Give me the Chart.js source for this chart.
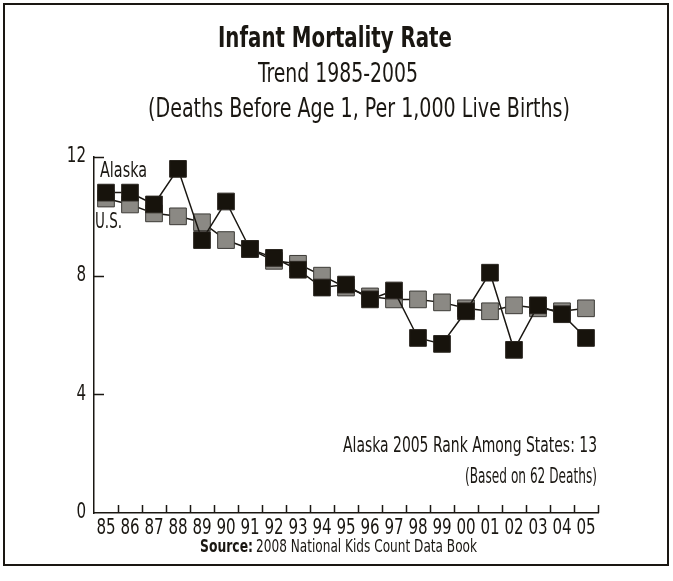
<!DOCTYPE html>
<html>
<head>
<meta charset="utf-8">
<script src="https://cdn.jsdelivr.net/npm/chart.js@4/dist/chart.umd.min.js"></script>
<style>
  html, body { margin: 0; padding: 0; background: #fff; }
  #wrap { width: 673px; height: 581px; }
</style>
</head>
<body>
<div id="wrap"><canvas id="chart" width="673" height="581"></canvas></div>
<script>
const years = ['85', '86', '87', '88', '89', '90', '91', '92', '93', '94', '95',
               '96', '97', '98', '99', '00', '01', '02', '03', '04', '05'];
const alaska = [10.8, 10.8, 10.4, 11.6, 9.2, 10.5, 8.9, 8.6, 8.2, 7.6, 7.7,
                7.2, 7.5, 5.9, 5.7, 6.8, 8.1, 5.5, 7.0, 6.7, 5.9];
const us = [10.6, 10.4, 10.1, 10.0, 9.8, 9.2, 8.9, 8.5, 8.4, 8.0, 7.6,
            7.3, 7.2, 7.2, 7.1, 6.9, 6.8, 7.0, 6.9, 6.8, 6.9];
const yTicks = [0, 4, 8, 12];

const FONT = "'DejaVu Sans Condensed', 'Liberation Sans Narrow', sans-serif";
const INK = '#1a1712';
const SQUEEZE = 0.8; // the original uses a condensed face

// draws a line of text squeezed horizontally, to a width or by SQUEEZE
function narrowText(ctx, text, x, y, size, weight, align, width) {
    ctx.font = weight + ' ' + size + 'px ' + FONT;
    const w = ctx.measureText(text).width;
    const sx = width ? width / w : SQUEEZE;
    const shown = w * sx;
    let left = x;
    if (align === 'center') left = x - shown / 2;
    if (align === 'right') left = x - shown;
    ctx.save();
    ctx.translate(left, y);
    ctx.scale(sx, 1);
    ctx.textAlign = 'left';
    ctx.textBaseline = 'middle';
    ctx.fillText(text, 0, 0);
    ctx.restore();
}

const decorations = {
    id: 'decorations',
    beforeDatasetsDraw: function (chart) {
        const ctx = chart.ctx;
        const x = chart.scales.x;
        const y = chart.scales.y;
        ctx.save();
        ctx.strokeStyle = INK;
        ctx.lineWidth = 1.5;
        ctx.beginPath();
        for (let i = 0; i < years.length; i++) {
            const px = Math.round(x.getPixelForValue(i + 0.5)) + 0.5;
            ctx.moveTo(px, y.bottom);
            ctx.lineTo(px, y.bottom - 8);
        }
        yTicks.forEach(function (v) {
            if (v === 0) return;
            const py = Math.round(y.getPixelForValue(v)) + 0.5;
            ctx.moveTo(x.left, py);
            ctx.lineTo(x.left + 10, py);
        });
        ctx.stroke();

        // tick labels, placed by the scales
        ctx.fillStyle = INK;
        x.ticks.forEach(function (t, i) {
            narrowText(ctx, x.getLabelForValue(t.value), x.getPixelForTick(i), y.bottom + 16, 21, 'normal', 'center');
        });
        y.ticks.forEach(function (t, i) {
            narrowText(ctx, String(t.value), x.left - 8, y.getPixelForTick(i), 21, 'normal', 'right');
        });
        ctx.restore();
    },
    afterDraw: function (chart) {
        const ctx = chart.ctx;
        ctx.save();
        ctx.strokeStyle = INK;
        ctx.lineWidth = 2;
        ctx.strokeRect(4, 4, 664, 561);

        ctx.fillStyle = INK;
        narrowText(ctx, 'Infant Mortality Rate', 335, 40, 28, 'bold', 'center', 234);
        narrowText(ctx, 'Trend 1985-2005', 338, 75, 26, 'normal', 'center', 160);
        narrowText(ctx, '(Deaths Before Age 1, Per 1,000 Live Births)', 359, 110, 26, 'normal', 'center', 422);

        narrowText(ctx, 'Alaska', 100, 172, 21, 'normal', 'left', 47);
        narrowText(ctx, 'U.S.', 95, 223, 21, 'normal', 'left', 27);

        narrowText(ctx, 'Alaska 2005 Rank Among States: 13', 597, 446, 22, 'normal', 'right', 254);
        narrowText(ctx, '(Based on 62 Deaths)', 597, 477, 22, 'normal', 'right', 132);

        narrowText(ctx, 'Source:', 200, 548, 17, 'bold', 'left', 53);
        narrowText(ctx, '2008 National Kids Count Data Book', 256, 548, 17, 'normal', 'left', 221);
        ctx.restore();
    }
};

new Chart(document.getElementById('chart'), {
    type: 'line',
    data: {
        labels: years,
        datasets: [{
            label: 'Alaska',
            data: alaska,
            borderColor: INK,
            borderWidth: 1.5,
            backgroundColor: '#17130c',
            pointBorderColor: '#2a2620',
            pointBorderWidth: 1,
            pointStyle: 'rect',
            pointRadius: 11.8,
            tension: 0
        }, {
            label: 'U.S.',
            data: us,
            borderColor: INK,
            borderWidth: 1.5,
            backgroundColor: '#8b8984',
            pointBorderColor: '#3d3b37',
            pointBorderWidth: 1,
            pointStyle: 'rect',
            pointRadius: 11.8,
            tension: 0
        }]
    },
    options: {
        responsive: false,
        animation: false,
        events: [],
        layout: { padding: { top: 157, right: 75, left: 0, bottom: 0 } },
        plugins: {
            legend: { display: false },
            tooltip: { enabled: false }
        },
        scales: {
            x: {
                type: 'category',
                offset: true,
                grid: { display: false, drawTicks: false },
                border: { display: true, color: INK, width: 1.5 },
                ticks: { display: false, autoSkip: false },
                afterFit: function (scale) { scale.height = 68; }
            },
            y: {
                min: 0,
                max: 12,
                afterBuildTicks: function (scale) { scale.ticks = yTicks.map(function (v) { return { value: v }; }); },
                grid: { display: false, drawTicks: false },
                border: { display: true, color: INK, width: 1.5 },
                ticks: { display: false },
                afterFit: function (scale) { scale.width = 94; }
            }
        }
    },
    plugins: [decorations]
});
</script>
</body>
</html>
